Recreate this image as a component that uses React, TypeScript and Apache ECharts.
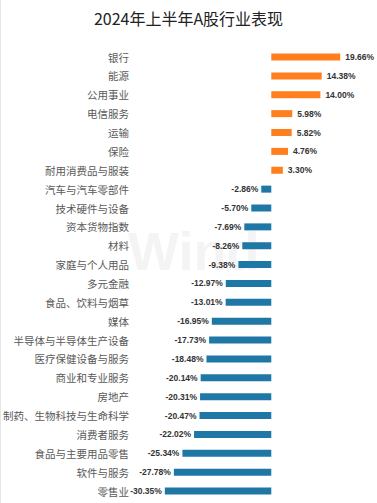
import React, { useEffect, useRef } from "react";
import * as echarts from "echarts";

const titleText = "2024年上半年A股行业表现";
const categories = [
  "银行", "能源", "公用事业", "电信服务", "运输", "保险", "耐用消费品与服装",
  "汽车与汽车零部件", "技术硬件与设备", "资本货物指数", "材料", "家庭与个人用品",
  "多元金融", "食品、饮料与烟草", "媒体", "半导体与半导体生产设备", "医疗保健设备与服务",
  "商业和专业服务", "房地产", "制药、生物科技与生命科学", "消费者服务",
  "食品与主要用品零售", "软件与服务", "零售业",
];
const values = [
  19.66, 14.38, 14.0, 5.98, 5.82, 4.76, 3.3,
  -2.86, -5.7, -7.69, -8.26, -9.38,
  -12.97, -13.01, -16.95, -17.73, -18.48,
  -20.14, -20.31, -20.47, -22.02,
  -25.34, -27.78, -30.35,
];

const ORANGE = "#FF7F1F";
const BLUE = "#1F77A6";

export default function App() {
  const ref = useRef<HTMLDivElement>(null);
  useEffect(() => {
    document.body.style.margin = "0";
    const chart = echarts.init(ref.current!, null, { renderer: "svg" });
    chart.setOption({
      animation: false,
      backgroundColor: "#ffffff",
      title: {
        text: titleText,
        left: "center",
        top: 5,
        textStyle: {
          fontSize: 16,
          fontWeight: "normal",
          color: "#222",
          fontFamily: "Noto Sans CJK SC",
        },
      },
      graphic: [
        {
          type: "text",
          left: 128,
          top: 224,
          z: -10,
          silent: true,
          style: {
            text: "Wind",
            fontSize: 54,
            fontWeight: "bold",
            fill: "#f4f4f4",
            fontFamily: "Liberation Sans",
          },
        },
        {
          type: "rect",
          shape: { x: 0, y: 0, width: 1, height: 503 },
          style: { fill: "#e6e6e6" },
        },
      ],
      grid: { left: 128, right: 0.5, top: 47.6, bottom: 2.5, containLabel: false },
      xAxis: {
        type: "value",
        min: -40,
        max: 30,
        show: false,
        splitLine: { show: false },
      },
      yAxis: {
        type: "category",
        data: categories,
        inverse: true,
        axisLine: { show: false, onZero: false },
        axisTick: { show: false },
        axisLabel: {
          margin: 2,
          fontSize: 10.5,
          color: "#595959",
          fontFamily: "Noto Sans CJK SC",
        },
      },
      series: [
        {
          type: "bar",
          barWidth: 7,
          data: values.map((v) => ({
            value: v,
            itemStyle: { color: v >= 0 ? ORANGE : BLUE },
            label: {
              show: true,
              position: v >= 0 ? "right" : "left",
              distance: v >= 0 ? 5 : 3,
            },
          })),
          label: {
            formatter: (p: any) => p.value.toFixed(2) + "%",
            fontSize: 8.5,
            fontWeight: "bold",
            color: "#333",
            fontFamily: "Liberation Sans",
          },
        },
      ],
    });
    return () => chart.dispose();
  }, []);
  return (
    <div
      ref={ref}
      style={{ position: "absolute", left: 0, top: 0, width: 377, height: 503 }}
    />
  );
}
